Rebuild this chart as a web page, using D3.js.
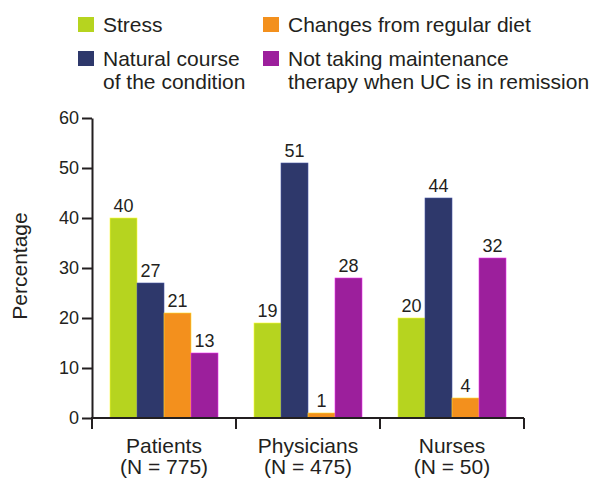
<!DOCTYPE html>
<html>
<head>
<meta charset="utf-8">
<script src="https://cdn.jsdelivr.net/npm/d3@7"></script>
<style>
  body { margin: 0; background: #fff; }
  svg text { font-family: "Liberation Sans", Arial, sans-serif; fill: #231f20; }
</style>
</head>
<body>
<svg id="chart" width="601" height="480"></svg>
<script>
// data
const groups = ['Patients', 'Physicians', 'Nurses'];
const groupN = ['(N = 775)', '(N = 475)', '(N = 50)'];
const series = ['Stress', 'Natural course of the condition', 'Changes from regular diet', 'Not taking maintenance therapy when UC is in remission'];
const stress = [40, 19, 20];
const natural = [27, 51, 44];
const diet = [21, 1, 4];
const maintenance = [13, 28, 32];
const yTicks = [0, 10, 20, 30, 40, 50, 60];

const colors = ['#b6d41f', '#2e386b', '#f3901d', '#9c1f9c'];
const values = [stress, natural, diet, maintenance];

const svg = d3.select('#chart');

const plotLeft = 92, plotRight = 524, plotTop = 118, plotBottom = 418;

const x0 = d3.scaleBand().domain(groups).range([plotLeft, plotRight]);
const x1 = d3.scaleBand().domain(series).range([18, x0.bandwidth() - 18]);
const y = d3.scaleLinear().domain([0, 60]).range([plotBottom, plotTop]);

// bars
groups.forEach((g, gi) => {
  const grp = svg.append('g').attr('transform', 'translate(' + x0(g) + ',0)');
  series.forEach((s, si) => {
    const v = values[si][gi];
    grp.append('rect')
      .attr('x', x1(s))
      .attr('y', y(v))
      .attr('width', x1.bandwidth())
      .attr('height', plotBottom - y(v))
      .attr('fill', colors[si])
      .attr('stroke', d3.color(colors[si]).brighter(1.2))
      .attr('stroke-width', 0.6);
    grp.append('text')
      .attr('x', x1(s) + x1.bandwidth() / 2)
      .attr('y', y(v) - 6)
      .attr('text-anchor', 'middle')
      .style('font-size', '18px')
      .text(v);
  });
});

// y axis
const yAxis = svg.append('g')
  .attr('transform', 'translate(' + plotLeft + ',0)')
  .call(d3.axisLeft(y).tickValues(yTicks).tickSize(10).tickSizeOuter(0).tickPadding(3));
yAxis.select('.domain').attr('stroke', '#231f20').attr('stroke-width', 2);
yAxis.selectAll('.tick line').attr('stroke', '#231f20').attr('stroke-width', 2);
yAxis.selectAll('.tick text')
  .style('font-size', '18px')
  .style('font-family', '"Liberation Sans", Arial, sans-serif')
  .attr('fill', '#231f20');

// x axis
svg.append('line')
  .attr('x1', plotLeft - 1).attr('x2', plotRight)
  .attr('y1', plotBottom).attr('y2', plotBottom)
  .attr('stroke', '#231f20').attr('stroke-width', 2);
const edges = groups.map(g => x0(g)).concat([x0(groups[groups.length - 1]) + x0.bandwidth()]);
svg.selectAll('.xtick').data(edges).enter().append('line')
  .attr('x1', d => d).attr('x2', d => d)
  .attr('y1', plotBottom).attr('y2', plotBottom + 11)
  .attr('stroke', '#231f20').attr('stroke-width', 2);

groups.forEach((g, gi) => {
  const cx = x0(g) + x0.bandwidth() / 2;
  svg.append('text').attr('x', cx).attr('y', 453)
    .attr('text-anchor', 'middle').style('font-size', '21px').text(g);
  svg.append('text').attr('x', cx).attr('y', 474)
    .attr('text-anchor', 'middle').style('font-size', '21px').text(groupN[gi]);
});

// y label
svg.append('text')
  .attr('transform', 'translate(27,266) rotate(-90)')
  .attr('text-anchor', 'middle')
  .style('font-size', '21px')
  .text('Percentage');

// legend
const legend = [
  { c: colors[0], x: 78, y: 17, lines: ['Stress'] },
  { c: colors[2], x: 263, y: 17, lines: ['Changes from regular diet'] },
  { c: colors[1], x: 78, y: 51, lines: ['Natural course', 'of the condition'] },
  { c: colors[3], x: 263, y: 51, lines: ['Not taking maintenance', 'therapy when UC is in remission'] }
];
legend.forEach(l => {
  svg.append('rect').attr('x', l.x).attr('y', l.y).attr('width', 16).attr('height', 15).attr('fill', l.c);
  l.lines.forEach((t, i) => {
    svg.append('text').attr('x', l.x + 25).attr('y', l.y + 15 + i * 23)
      .style('font-size', '21px').text(t);
  });
});
</script>
</body>
</html>
